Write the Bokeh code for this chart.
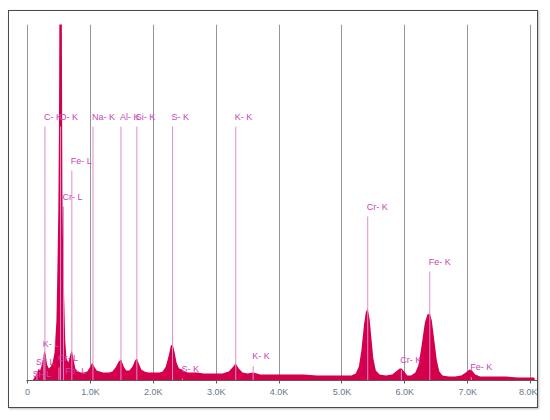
from bokeh.plotting import figure
from bokeh.models import FixedTicker, ColumnDataSource
from bokeh.embed import file_html
from bokeh.resources import INLINE
from bokeh.core.properties import value

# Spectrum (energy keV, counts)
energy = [0.00, 0.08, 0.10, 0.14, 0.18, 0.20, 0.22, 0.25, 0.27, 0.29, 0.31, 0.34, 0.37, 0.40,
          0.43, 0.46, 0.475, 0.49, 0.50, 0.51, 0.53, 0.545, 0.555, 0.57, 0.58, 0.60, 0.62, 0.65,
          0.68, 0.705, 0.73, 0.76, 0.80, 0.85, 0.90, 0.95, 1.00, 1.03, 1.06, 1.10, 1.15, 1.20,
          1.25, 1.30, 1.35, 1.40, 1.45, 1.49, 1.53, 1.57, 1.62, 1.67, 1.71, 1.74, 1.77, 1.81,
          1.86, 1.92, 2.00, 2.05, 2.10, 2.15, 2.20, 2.25, 2.28, 2.31, 2.34, 2.37, 2.41, 2.46,
          2.50, 2.55, 2.60, 2.70, 2.80, 2.90, 3.00, 3.10, 3.20, 3.26, 3.31, 3.36, 3.42, 3.50,
          3.59, 3.65, 3.70, 3.80, 4.00, 4.20, 4.40, 4.60, 4.80, 5.00, 5.15, 5.22, 5.27, 5.31,
          5.35, 5.38, 5.41, 5.44, 5.47, 5.50, 5.54, 5.60, 5.70, 5.80, 5.86, 5.92, 5.95, 5.99,
          6.04, 6.10, 6.17, 6.22, 6.27, 6.32, 6.36, 6.40, 6.43, 6.47, 6.51, 6.55, 6.60, 6.70,
          6.80, 6.90, 6.97, 7.03, 7.07, 7.12, 7.20, 7.40, 7.60, 7.80, 8.00, 8.06, 8.07]
counts = [0, 0, 20, 60, 120, 100, 140, 220, 300, 260, 160, 120, 140, 180,
          280, 600, 1100, 1700, 2500, 4200, 4200, 3800, 1900, 1100, 900, 400, 220, 180,
          260, 300, 220, 120, 90, 80, 80, 90, 140, 180, 140, 100, 90, 80,
          80, 80, 90, 130, 190, 210, 140, 100, 100, 140, 200, 220, 170, 110,
          90, 80, 80, 80, 80, 90, 140, 260, 350, 360, 280, 180, 120, 110,
          90, 80, 80, 80, 70, 70, 70, 70, 90, 130, 170, 120, 80, 70,
          80, 70, 60, 60, 60, 60, 60, 50, 50, 50, 50, 70, 140, 300,
          550, 680, 720, 620, 420, 220, 100, 60, 50, 60, 90, 120, 120, 90,
          50, 50, 80, 160, 360, 580, 660, 670, 600, 400, 200, 90, 50, 40,
          40, 50, 80, 110, 100, 60, 40, 40, 40, 30, 30, 30, 0]

# Element markers
marker_names = ["C- K", "O- K", "Na- K", "Al- K", "Si- K", "S- K", "K- K",
                "Fe- L", "Cr- L", "Cr- K", "Fe- K",
                "K- L", "Si- L", "Si- L", "Cr- L", "Fe- L",
                "S- K", "K- K", "Cr- K", "Fe- K"]
marker_energy = [0.277, 0.525, 1.041, 1.486, 1.739, 2.307, 3.312,
                 0.705, 0.573, 5.411, 6.398,
                 0.260, 0.150, 0.100, 0.500, 0.615,
                 2.464, 3.589, 5.946, 7.057]
marker_height = [2540, 2540, 2540, 2540, 2540, 2540, 2540,
                 2100, 1740, 1640, 1090,
                 270, 90, -30, 130, -5,
                 20, 145, 105, 35]

x_ticks = [0, 1, 2, 3, 4, 5, 6, 7, 8]
x_tick_labels = ["0", "1.0K", "2.0K", "3.0K", "4.0K", "5.0K", "6.0K", "7.0K", "8.0K"]

p = figure(width=530, height=398, x_range=(-0.016, 8.111), y_range=(0, 3560),
           output_backend="svg", toolbar_location=None, y_axis_location=None,
           min_border_left=17, min_border_right=2, min_border_top=13, min_border_bottom=29)
p.outline_line_color = None
p.background_fill_color = "white"
p.border_fill_color = "white"
p.styles = {"border": "1px solid #4a4a4a", "box-shadow": "1px 1px 2px #bbbbbb",
            "margin-left": "8px", "margin-top": "10px"}

ticker = FixedTicker(ticks=x_ticks)
p.xaxis.ticker = ticker
p.xaxis.major_label_overrides = {t: l for t, l in zip(x_ticks, x_tick_labels)}
p.xaxis.axis_line_color = "#5a5a5a"
p.xaxis.major_tick_line_color = "#5a5a5a"
p.xaxis.major_tick_out = 3
p.xaxis.major_tick_in = 0
p.xaxis.minor_tick_line_color = None
p.xaxis.major_label_standoff = 3
p.xaxis.major_label_text_color = "#66788a"
p.xaxis.major_label_text_font = "Liberation Sans"
p.xaxis.major_label_text_font_size = "9px"
p.xgrid.ticker = ticker
p.xgrid.grid_line_color = "#959595"
p.ygrid.grid_line_color = None

src = ColumnDataSource(dict(x=energy, y=counts))
p.varea(x="x", y1=0, y2="y", source=src, fill_color="#d4004c")

msrc = ColumnDataSource(dict(x=marker_energy, h=marker_height, name=marker_names))
p.segment(x0="x", y0=0, x1="x", y1="h", source=msrc, line_color="#e08ccf", line_width=1)
p.text(x="x", y="h", text="name", source=msrc, x_offset=-1, y_offset=-10,
       text_font=value("Liberation Sans"), text_font_size="9px", text_color="#c945b4",
       text_baseline="alphabetic", text_align="left")

open("out.html", "w").write(file_html(p, INLINE))
